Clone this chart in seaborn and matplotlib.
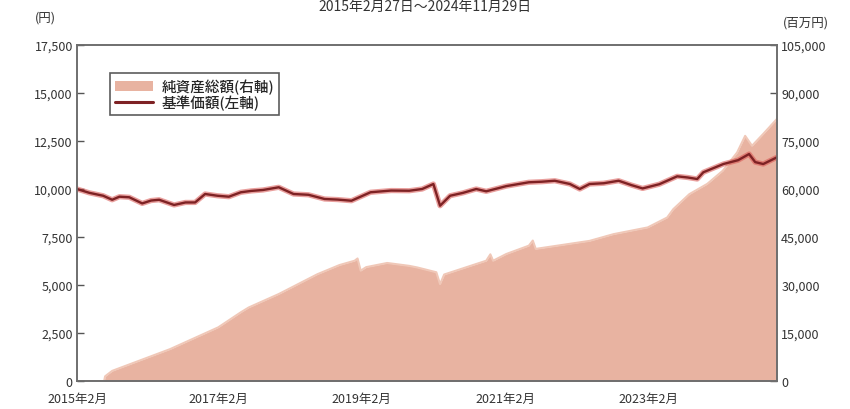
import pandas as pd
import matplotlib
matplotlib.use("Agg")
import matplotlib.pyplot as plt
from matplotlib.patches import Patch
from matplotlib.lines import Line2D
import seaborn as sns

# 基準価額 (left axis, yen)
nav_dates = ["2015-02-27", "2015-05-01", "2015-07-10", "2015-08-25", "2015-10-01", "2015-11-20",
             "2016-01-25", "2016-03-10", "2016-04-20", "2016-07-05", "2016-09-01", "2016-10-20",
             "2016-12-10", "2017-02-10", "2017-04-10", "2017-06-10", "2017-08-01", "2017-10-01",
             "2017-12-20", "2018-03-05", "2018-05-20", "2018-08-10", "2018-10-15", "2018-12-25",
             "2019-04-01", "2019-07-15", "2019-10-15", "2019-12-20", "2020-02-15", "2020-03-20",
             "2020-05-10", "2020-07-15", "2020-09-20", "2020-11-10", "2021-02-20", "2021-06-15",
             "2021-08-20", "2021-10-25", "2022-01-10", "2022-03-01", "2022-04-20", "2022-07-01",
             "2022-09-15", "2022-11-20", "2023-01-15", "2023-04-10", "2023-07-10", "2023-09-01",
             "2023-10-20", "2023-11-20", "2024-03-01", "2024-05-15", "2024-07-10", "2024-08-10",
             "2024-09-20", "2024-11-29"]
nav_values = [10000, 9800, 9650, 9440, 9600, 9570,
              9250, 9400, 9440, 9170, 9300, 9300,
              9740, 9650, 9600, 9830, 9900, 9950,
              10090, 9740, 9700, 9480, 9450, 9390,
              9830, 9920, 9910, 10000, 10260, 9130,
              9650, 9800, 10000, 9880, 10150, 10350,
              10380, 10430, 10260, 10000, 10260, 10300,
              10430, 10200, 10030, 10250, 10660, 10600,
              10520, 10870, 11300, 11500, 11820, 11400,
              11300, 11650]

# 純資産総額 (right axis, million yen)
aum_dates = ["2015-02-27", "2015-07-15", "2015-07-20", "2015-08-25", "2016-06-15", "2017-02-15",
             "2017-06-10", "2017-07-20", "2017-12-20", "2018-07-05", "2018-10-25", "2019-01-10",
             "2019-01-25", "2019-02-10", "2019-03-10", "2019-06-25", "2019-10-15", "2019-11-25",
             "2020-03-01", "2020-03-20", "2020-04-10", "2020-11-10", "2020-12-01", "2020-12-15",
             "2021-02-20", "2021-06-15", "2021-07-05", "2021-07-20", "2022-04-20", "2022-08-20",
             "2023-02-10", "2023-05-20", "2023-06-20", "2023-09-10", "2023-12-10", "2024-02-27",
             "2024-05-10", "2024-06-20", "2024-07-25", "2024-09-20", "2024-11-29"]
aum_values = [0, 0, 1500, 3200, 10000, 16800,
              21500, 23000, 27200, 33400, 36250, 37600,
              38300, 34500, 35600, 36900, 36000, 35500,
              34000, 30300, 33300, 37600, 39600, 37600,
              39700, 42300, 43900, 41300, 43800, 45900,
              48000, 51100, 53700, 58400, 61600, 65700,
              71400, 76600, 73500, 77200, 81900]

xtick_dates = ["2015-02-27", "2017-02-15", "2019-02-15", "2021-02-15", "2023-02-15"]
xtick_labels = ["2015年2月", "2017年2月", "2019年2月", "2021年2月", "2023年2月"]

nav = pd.DataFrame({"date": pd.to_datetime(nav_dates), "nav": nav_values})
aum = pd.DataFrame({"date": pd.to_datetime(aum_dates), "aum": aum_values})

sns.set_style("white")
plt.rcParams["font.family"] = ["Noto Sans CJK JP", "DejaVu Sans"]

fig = plt.figure(figsize=(8.5, 4.1), dpi=100)
ax = fig.add_axes([0.0906, 0.068, 0.8235, 0.82])
ax2 = ax.twinx()

fill_color = "#e8b3a1"
line_color = "#7e2224"

# area on the right axis
ax2.fill_between(aum["date"], aum["aum"], color=fill_color, linewidth=0)
sns.lineplot(data=aum, x="date", y="aum", ax=ax2, color="#f0c8b8", linewidth=1.5)

# line on the left axis (drawn above the area)
ax.set_zorder(ax2.get_zorder() + 1)
ax.patch.set_visible(False)
sns.lineplot(data=nav, x="date", y="nav", ax=ax, color="#d8524e", linewidth=3.8, alpha=0.55)
sns.lineplot(data=nav, x="date", y="nav", ax=ax, color=line_color, linewidth=1.7)

ax.set_xlim(pd.Timestamp("2015-02-27"), pd.Timestamp("2024-11-29"))
ax.set_ylim(0, 17500)
ax2.set_ylim(0, 105000)
ax.set_yticks(range(0, 17501, 2500))
ax2.set_yticks(range(0, 105001, 15000))
ax.yaxis.set_major_formatter(matplotlib.ticker.FuncFormatter(lambda v, p: f"{int(v):,}"))
ax2.yaxis.set_major_formatter(matplotlib.ticker.FuncFormatter(lambda v, p: f"{int(v):,}"))

ax.set_xticks(pd.to_datetime(xtick_dates))
ax.set_xticklabels(xtick_labels)
ax.set_xlabel("")
ax.set_ylabel("")
ax2.set_ylabel("")

for a in (ax, ax2):
    for s in a.spines.values():
        s.set_color("#6e6e6e")
        s.set_linewidth(1.2)
    a.tick_params(axis="both", direction="in", length=5, width=1, color="#555555",
                  labelsize=9, labelcolor="#333333", pad=3)
ax.tick_params(axis="x", pad=8)

legend_handles = [Patch(facecolor=fill_color, edgecolor="none", label="純資産総額(右軸)"),
                  Line2D([0], [0], color=line_color, linewidth=2.2, label="基準価額(左軸)")]
leg = ax.legend(handles=legend_handles, loc="upper left", bbox_to_anchor=(0.047, 0.915),
                frameon=True, fancybox=False, fontsize=10.5, handlelength=2.6,
                borderpad=0.35, labelspacing=0.05, handletextpad=0.6, borderaxespad=0,
                prop={"weight": "medium", "size": 10.5})
leg.get_frame().set_edgecolor("#333333")
leg.get_frame().set_linewidth(1.2)

fig.text(0.053, 0.955, "(円)", ha="center", va="center", fontsize=9, color="#333333")
fig.text(0.948, 0.945, "(百万円)", ha="center", va="center", fontsize=9, color="#333333")
fig.text(0.5, 0.999, "2015年2月27日～2024年11月29日", ha="center", va="top",
         fontsize=10, color="#333333")

fig.savefig("out.png", dpi=100)
